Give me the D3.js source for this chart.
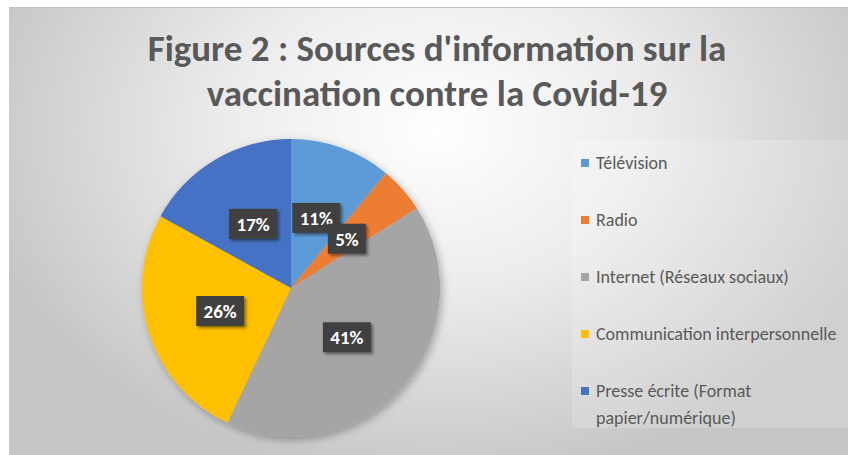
<!DOCTYPE html>
<html><head><meta charset="utf-8">
<script src="https://cdn.jsdelivr.net/npm/d3@7"></script>
<style>
html,body{margin:0;padding:0;background:#fff;}
svg{display:block;}
</style></head>
<body>
<svg id="chart" width="848" height="455"></svg>
<script>
const categories = ["Télévision","Radio","Internet (Réseaux sociaux)","Communication interpersonnelle","Presse écrite (Format papier/numérique)"];
const legendLines = [["Télévision"],["Radio"],["Internet (Réseaux sociaux)"],["Communication interpersonnelle"],["Presse écrite (Format","papier/numérique)"]];
const values = [11,5,41,26,17];
const colors = ["#5B9BD5","#ED7D31","#A5A5A5","#FFC000","#4472C4"];
const titleLines = ["Figure 2 : Sources d'information sur la","vaccination contre la Covid-19"];

const font = "Carlito, Calibri, Lato, 'Open Sans', sans-serif";
const svg = d3.select("#chart");
const defs = svg.append("defs");
const rg = defs.append("radialGradient").attr("id","bg")
  .attr("gradientUnits","userSpaceOnUse").attr("cx",437).attr("cy",130).attr("r",470)
  .attr("gradientTransform","translate(437,130) scale(1,0.75) translate(-437,-130)");
rg.append("stop").attr("offset","0").attr("stop-color","#ffffff");
rg.append("stop").attr("offset","0.45").attr("stop-color","#ececec");
rg.append("stop").attr("offset","1").attr("stop-color","#c6c6c6");

const sh = defs.append("filter").attr("id","pieShadow").attr("x","-20%").attr("y","-20%").attr("width","140%").attr("height","140%");
sh.append("feDropShadow").attr("dx",2).attr("dy",3).attr("stdDeviation",4).attr("flood-color","#000").attr("flood-opacity",0.3);
const lsh = defs.append("filter").attr("id","lblShadow").attr("x","-30%").attr("y","-30%").attr("width","160%").attr("height","160%");
lsh.append("feDropShadow").attr("dx",2).attr("dy",2).attr("stdDeviation",1.5).attr("flood-color","#000").attr("flood-opacity",0.45);

// chart area
svg.append("rect").attr("x",9).attr("y",7).attr("width",860).attr("height",460).attr("fill","url(#bg)");
svg.append("line").attr("x1",9).attr("x2",848).attr("y1",7.5).attr("y2",7.5).attr("stroke","#c0c0c0").attr("stroke-width",1);

// title
svg.append("text").attr("x",437).attr("y",61).attr("text-anchor","middle")
  .attr("font-family",font).attr("font-weight","bold").attr("font-size",37).attr("fill","#595959")
  .selectAll("tspan").data(titleLines).join("tspan")
  .attr("x",437).attr("dy",(d,i)=>i===0?0:45).text(d=>d);

// pie
const cx = 291, cy = 288, R = 149;
const pie = d3.pie().sort(null).value(d=>d)(values);
const arc = d3.arc().innerRadius(0).outerRadius(R);
const lblArc = d3.arc().innerRadius(R*0.5).outerRadius(R*0.5);
const g = svg.append("g").attr("transform",`translate(${cx},${cy})`);
g.append("g").attr("filter","url(#pieShadow)").selectAll("path").data(pie).join("path")
  .attr("d",arc).attr("fill",(d,i)=>colors[i]);

const lg = g.selectAll("g.lbl").data(pie).join("g").attr("class","lbl")
  .attr("transform",d=>`translate(${lblArc.centroid(d)})`);
lg.each(function(d){
  const s = d3.select(this);
  const t = d.data+"%";
  const w = t.length===2 ? 38 : 48;
  s.append("rect").attr("x",-w/2).attr("y",-15).attr("width",w).attr("height",30)
    .attr("fill","#404040").attr("filter","url(#lblShadow)");
  s.append("text").attr("text-anchor","middle").attr("dy","0.36em")
    .attr("font-family",font).attr("font-weight","bold").attr("font-size",19).attr("fill","#ffffff").text(t);
});

// legend
svg.append("rect").attr("x",572).attr("y",140).attr("width",290).attr("height",288)
  .attr("fill","#ffffff").attr("fill-opacity",0.18);
const legY = d3.scalePoint().domain(categories).range([163,391]);
const li = svg.selectAll("g.leg").data(categories).join("g").attr("class","leg")
  .attr("transform",d=>`translate(581,${legY(d)})`);
li.append("rect").attr("x",0).attr("y",-4).attr("width",8).attr("height",8).attr("fill",(d,i)=>colors[i]);
li.append("text").attr("font-family",font).attr("font-size",18).attr("fill","#595959")
  .selectAll("tspan").data((d,i)=>legendLines[i]).join("tspan")
  .attr("x",15).attr("dy",(d,i)=>i===0?"0.35em":"27").text(d=>d);
</script>
</body></html>
